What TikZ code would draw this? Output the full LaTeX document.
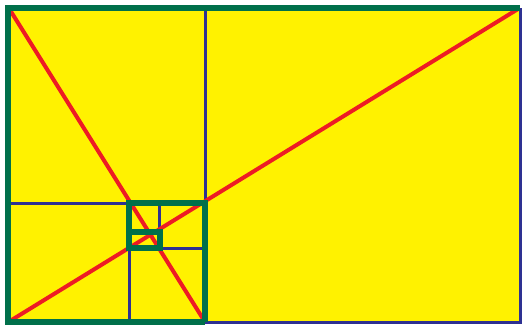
\documentclass[tikz,border=0pt]{standalone}
\definecolor{goldyellow}{HTML}{FFF200}
\definecolor{framegreen}{HTML}{00704A}
\definecolor{splitblue}{HTML}{2E3192}
\definecolor{diagred}{HTML}{ED1C24}
\tikzset{
  frame/.style={draw=framegreen, line width=5.5pt},
  split/.style={draw=splitblue, line width=3pt},
  diag/.style={draw=diagred, line width=4pt},
}
\begin{document}
\begin{tikzpicture}[x=1pt, y=-1pt]
            \useasboundingbox (0,0) rectangle (522,324);
            % corners of the golden rectangle and its squares
            \coordinate (tl) at (8,8);
            \coordinate (tr) at (520,8);
            \coordinate (bl) at (8,322);
            \coordinate (br) at (520,322);
            \coordinate (a) at (205,8);
            \coordinate (b) at (205,203);
            \coordinate (c) at (8,203);
            \coordinate (d) at (205,322);
            \coordinate (e) at (129,203);
            \coordinate (f) at (129,322);
            \coordinate (g) at (205,248);
            \coordinate (h) at (159,203);
            \fill[goldyellow] (tl) rectangle (br);
            % square dividers
            \draw[split] (a) -- (b);
            \draw[split] (c) -- (e);
            \draw[split] (129,250) -- (f);
            \draw[split] (160,248) -- (g);
            \draw[split] (h) -- (159,232);
            \draw[split] (d) -- (br) -- (tr);
            % diagonals
            \draw[diag] (10,10) -- (d);
            \draw[diag] (10,321) -- (518,9);
            % green frames
            \draw[frame] (d) -- (bl) -- (tl) -- (tr);
            \draw[frame] (129,250) -- (e) -- (b) -- (d);
            \draw[frame] (129,232) rectangle (160,248);
\end{tikzpicture}
\end{document}
